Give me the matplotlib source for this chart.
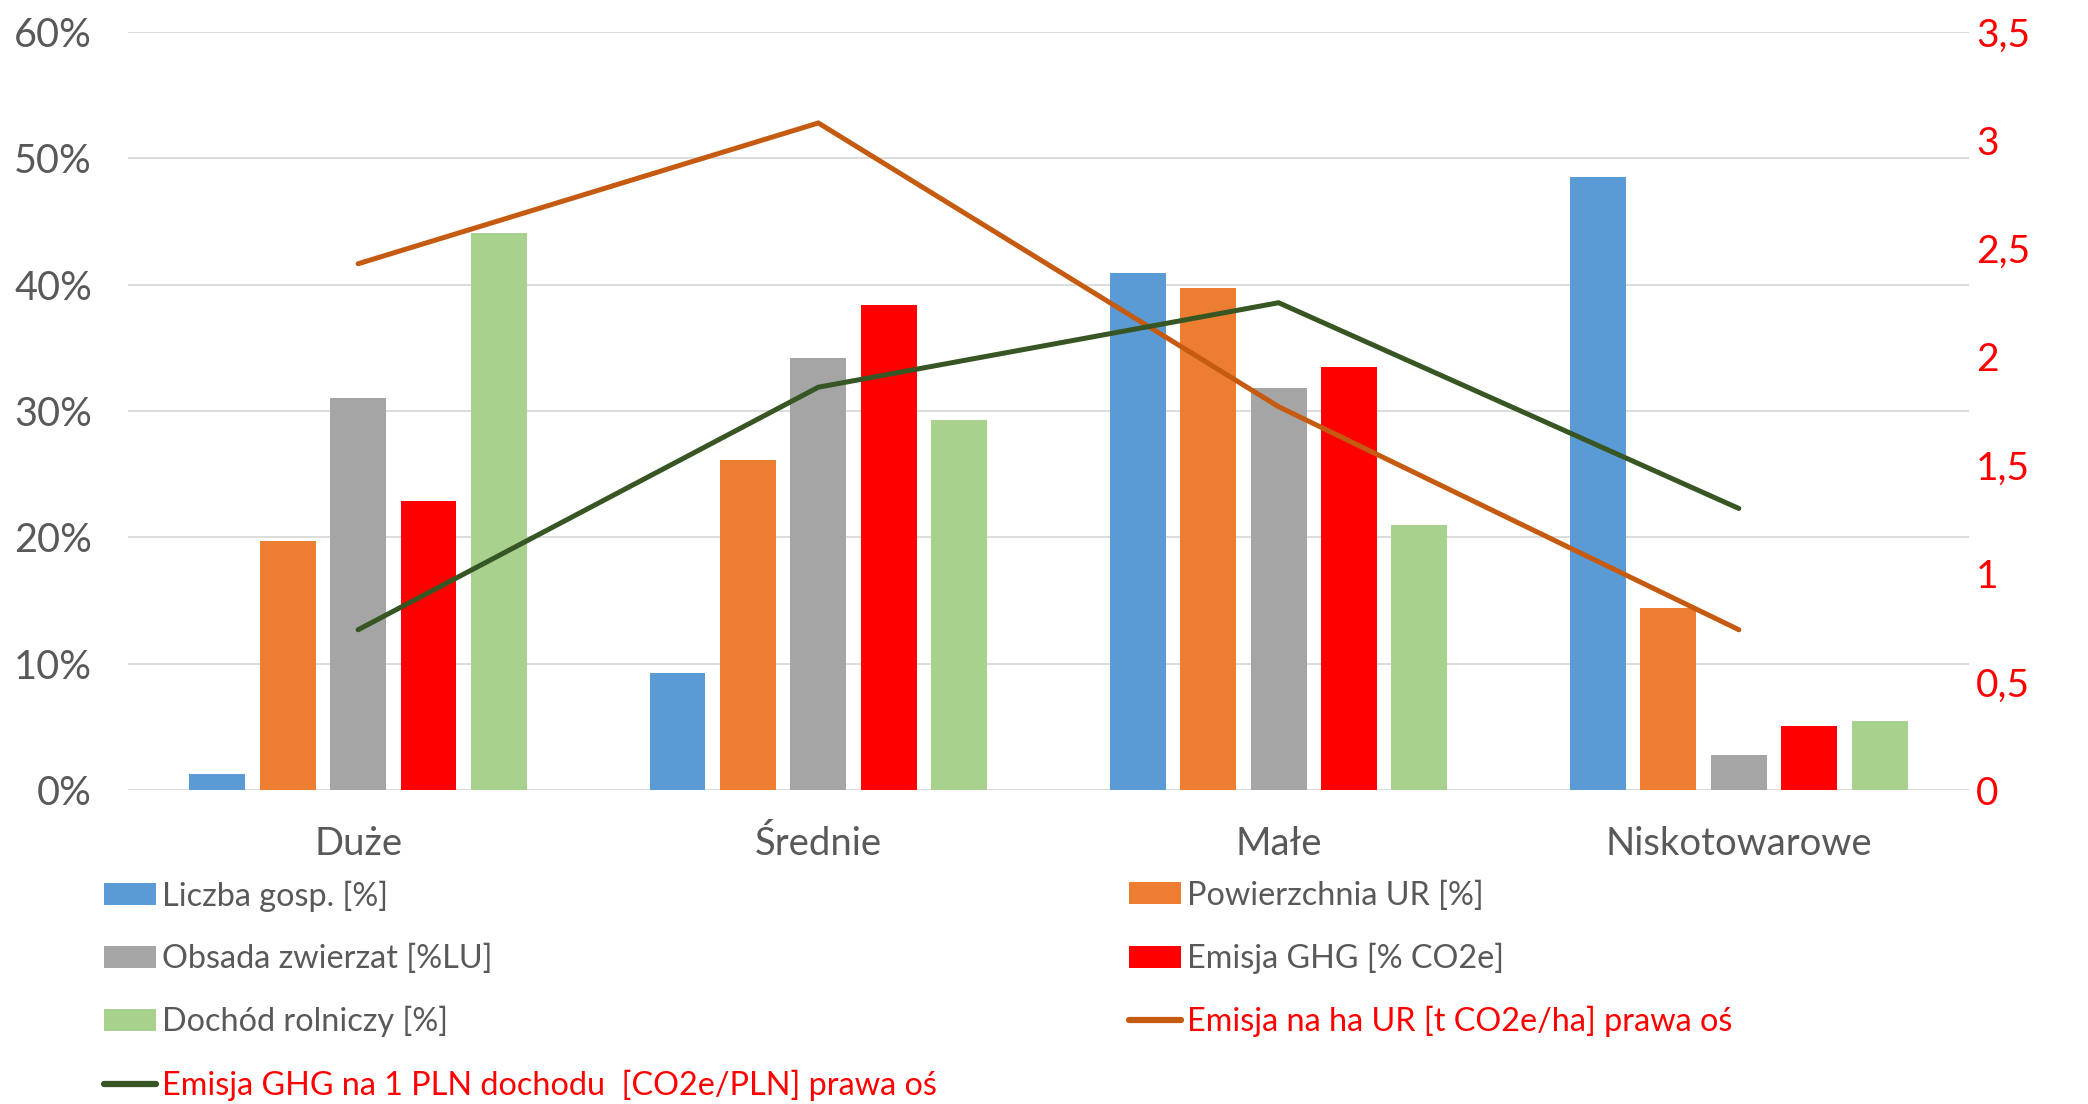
import numpy as np
import matplotlib.pyplot as plt
from matplotlib.patches import Patch
from matplotlib.lines import Line2D

plt.rcParams['font.family'] = ['Lato', 'DejaVu Sans']

# Grupy gospodarstw
categories = ['Duże', 'Średnie', 'Małe', 'Niskotowarowe']

# Udziały procentowe (lewa oś)
liczba_gosp = [1.3, 9.3, 40.9, 48.5]
powierzchnia_ur = [19.7, 26.1, 39.7, 14.4]
obsada_zwierzat = [31.0, 34.2, 31.8, 2.8]
emisja_ghg = [22.9, 38.4, 33.5, 5.1]
dochod_rolniczy = [44.1, 29.3, 21.0, 5.5]

# Wskaźniki emisji (prawa oś)
emisja_na_ha = [2.43, 3.08, 1.77, 0.74]
emisja_na_pln = [0.74, 1.86, 2.25, 1.30]

bar_labels = ['Liczba gosp. [%]', 'Powierzchnia UR [%]', 'Obsada zwierzat [%LU]',
              'Emisja GHG [% CO2e]', 'Dochód rolniczy [%]']
bar_colors = ['#5B9BD5', '#ED7D31', '#A5A5A5', '#FF0000', '#A9D18E']
line_labels = ['Emisja na ha UR [t CO2e/ha] prawa oś',
               'Emisja GHG na 1 PLN dochodu  [CO2e/PLN] prawa oś']
line_colors = ['#C55A11', '#375623']

text_gray = '#595959'
grid_gray = '#D9D9D9'

fig = plt.figure(figsize=(20.88, 11.04), dpi=100)
ax = fig.add_axes([0.0613, 0.2844, 0.8817, 0.6866])
ax2 = ax.twinx()

x = np.arange(len(categories))
width = 0.1215
pitch = 0.153
series = [liczba_gosp, powierzchnia_ur, obsada_zwierzat, emisja_ghg, dochod_rolniczy]
for i, (vals, col) in enumerate(zip(series, bar_colors)):
    ax.bar(x + (i - 2) * pitch, vals, width, color=col, zorder=2)

ax.set_xlim(-0.5, len(categories) - 0.5)
ax.set_ylim(0, 60)
ax.set_yticks(np.arange(0, 61, 10))
ax.set_yticklabels([f'{v}%' for v in range(0, 61, 10)])
ax.yaxis.grid(True, color=grid_gray, linewidth=1.3, zorder=0)
ax.set_axisbelow(True)
ax.set_xticks(x)
ax.set_xticklabels(categories)
ax.tick_params(axis='x', length=0, pad=26, labelsize=27.5, labelcolor=text_gray)
ax.tick_params(axis='y', length=0, pad=26, labelsize=28.5, labelcolor=text_gray)

for vals, col in zip([emisja_na_ha, emisja_na_pln], line_colors):
    ax2.plot(x, vals, color=col, linewidth=3.6, solid_capstyle='round',
             solid_joinstyle='miter', zorder=3)

ax2.set_ylim(0, 3.5)
rticks = np.arange(0, 3.51, 0.5)
ax2.set_yticks(rticks)
ax2.set_yticklabels([f'{v:g}'.replace('.', ',') for v in rticks])
ax2.tick_params(axis='y', length=0, pad=5, labelsize=28, labelcolor='#FF0000')

for a in (ax, ax2):
    for s in a.spines.values():
        s.set_visible(False)

# Legenda w dwóch kolumnach
bar_handles = [Patch(facecolor=c) for c in bar_colors]
line_handles = [Line2D([0], [0], color=c, linewidth=4.5, solid_capstyle='round')
                for c in line_colors]

col1 = [(bar_handles[0], bar_labels[0]), (bar_handles[2], bar_labels[2]),
        (bar_handles[4], bar_labels[4]), (line_handles[1], line_labels[1])]
col2 = [(bar_handles[1], bar_labels[1]), (bar_handles[3], bar_labels[3]),
        (line_handles[0], line_labels[0])]

leg_kw = dict(loc='upper left', frameon=False, fontsize=23.3, borderpad=0,
              borderaxespad=0, handlelength=1.6, handleheight=0.66,
              handletextpad=0.2, labelspacing=0.99)

leg1 = fig.legend([h for h, _ in col1], [l for _, l in col1],
                  bbox_to_anchor=(0.0498, 0.2025), **leg_kw)
leg2 = fig.legend([h for h, _ in col2], [l for _, l in col2],
                  bbox_to_anchor=(0.5407, 0.2025), **leg_kw)

for leg in (leg1, leg2):
    for t in leg.get_texts():
        t.set_color('#FF0000' if 'prawa oś' in t.get_text() else text_gray)

fig.savefig('out.png', dpi=100, facecolor='white')
